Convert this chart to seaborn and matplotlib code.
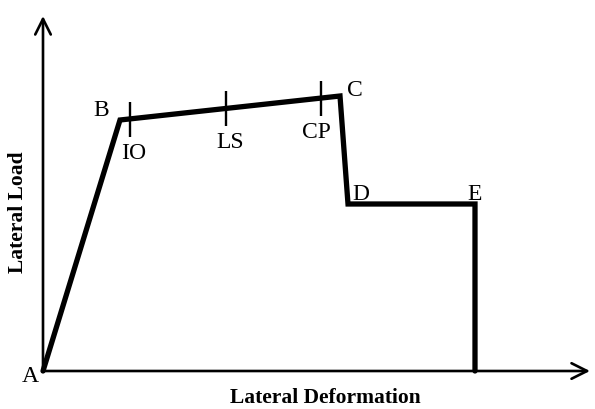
import numpy as np
import pandas as pd
import matplotlib
matplotlib.use("Agg")
import matplotlib.pyplot as plt
import seaborn as sns

sns.set_theme(style="white")
plt.rcParams["font.family"] = ["Liberation Serif", "DejaVu Serif"]
plt.rcParams["text.color"] = "black"

# Generalized force-deformation backbone (points A-B-C-D-E, then drop to zero)
curve_labels = ["A", "B", "C", "D", "E", ""]
deformation = [0, 77, 297, 305, 432, 432]
load = [0, 251, 275, 167, 167, 0]

# Performance levels along the B-C branch
level_labels = ["IO", "LS", "CP"]
level_deformation = [87, 183, 278]
level_load = [252, 263, 273]

df = pd.DataFrame({"deformation": deformation, "load": load})

fig = plt.figure(figsize=(5.95, 4.10), dpi=100)
ax = fig.add_axes([43 / 595, 38 / 410, 547 / 595, 355 / 410])
ax.set_xlim(0, 547)
ax.set_ylim(0, 355)

sns.lineplot(data=df, x="deformation", y="load", sort=False, estimator=None,
             color="black", lw=3.8, ax=ax, clip_on=False,
             solid_joinstyle="miter")

# Short vertical ticks for the performance levels
half = 17.5
ax.vlines(level_deformation, np.array(level_load) - half,
          np.array(level_load) + half, color="black", lw=1.7)

# Axis arrows
for xy in [(1.0, 0.0), (0.0, 1.0)]:
    ax.annotate("", xy=xy, xytext=(0, 0), xycoords="axes fraction",
                textcoords="axes fraction",
                arrowprops=dict(arrowstyle="->", lw=1.9, color="black",
                                mutation_scale=28, shrinkA=0, shrinkB=0))

for s in ax.spines.values():
    s.set_visible(False)
ax.set_xticks([])
ax.set_yticks([])
ax.set_xlabel("")
ax.set_ylabel("")

fs = 17
# Point labels
point_offsets = {"A": (-13, -5), "B": (-19, 10), "C": (15, 7),
                 "D": (13, 10), "E": (0, 10)}
for lab, x, y in zip(curve_labels, deformation, load):
    if lab in point_offsets:
        dx, dy = point_offsets[lab]
        ax.text(x + dx, y + dy, lab, fontsize=fs, ha="center", va="center",
                color="black", clip_on=False)

level_offsets = {"IO": (4, -34), "LS": (4, -34), "CP": (-5, -34)}
for lab, x, y in zip(level_labels, level_deformation, level_load):
    dx, dy = level_offsets[lab]
    ax.text(x + dx, y + dy, lab, fontsize=fs, ha="center", va="center",
            color="black")

fig.text(325 / 595, 1 - 398 / 410, "Lateral Deformation", fontsize=15.5,
         fontweight="bold", ha="center", va="center", color="black")
fig.text(18 / 595, 1 - 212 / 410, "Lateral Load", fontsize=15.5,
         fontweight="bold", ha="center", va="center", rotation=90,
         color="black")

fig.savefig("out.png", dpi=100, facecolor="white")
